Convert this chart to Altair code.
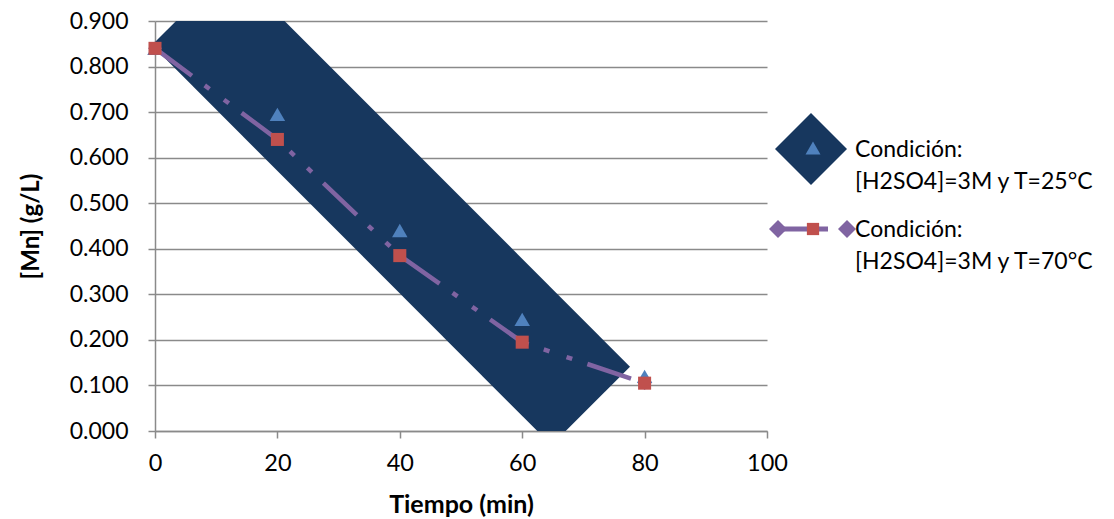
import altair as alt
import pandas as pd

# ---- data ----
tiempo = [0, 20, 40, 60, 80]
mn_25c = [0.840, 0.695, 0.440, 0.245, 0.120]
mn_70c = [0.840, 0.640, 0.385, 0.195, 0.105]
band_t = [5.9, 71.2]
band_v = [0.933, 0.055]
end_t = [0, 80]
end_v = [0.840, 0.105]
y_ticks = [0.0, 0.1, 0.2, 0.3, 0.4, 0.5, 0.6, 0.7, 0.8, 0.9]
x_ticks = [0, 20, 40, 60, 80, 100]
legend_l1 = ["Condición:", "[H2SO4]=3M y T=25°C"]
legend_l2 = ["Condición:", "[H2SO4]=3M y T=70°C"]

FONT = "Lato"
NAVY = "#17375E"
BLUE = "#4F81BD"
RED = "#C0504D"
PURPLE = "#8064A2"
GRID = "#8a8a8a"

main = pd.DataFrame({"t": tiempo, "a": mn_25c, "b": mn_70c})
band = pd.DataFrame({"t": band_t, "v": band_v})
ends = pd.DataFrame({"t": end_t, "v": end_v})

xs = alt.Scale(domain=[0, 100], nice=False)
ys = alt.Scale(domain=[0, 0.9], nice=False)

x_axis = alt.Axis(values=x_ticks, title="Tiempo (min)", grid=False, labelFlush=False,
                  domainColor=GRID, domainWidth=1.5, tickColor=GRID, tickWidth=1.5,
                  tickSize=7, labelFontSize=23.5, labelPadding=13, labelFont=FONT,
                  labelColor="#000000", titleFont=FONT, titleFontSize=25,
                  titleFontWeight="bold", titleColor="#000000",
                  titleX=306, titleY=81, titleBaseline="alphabetic", titleAlign="center")
y_axis = alt.Axis(values=y_ticks, format=".3f", title="[Mn] (g/L)", grid=True,
                  gridColor=GRID, gridWidth=1.5, domainColor=GRID, domainWidth=1.5,
                  tickColor=GRID, tickWidth=1.5, tickSize=7, labelFontSize=23,
                  labelPadding=20, labelFont=FONT, labelColor="#000000", labelFlush=False,
                  titleFont=FONT, titleFontSize=24, titleFontWeight="bold",
                  titleColor="#000000", titleX=-117, titleY=205, titleAngle=270,
                  titleAlign="center", titleBaseline="alphabetic")

band_layer = alt.Chart(band).mark_line(
    color=NAVY, strokeWidth=111, strokeCap="butt", clip=True
).encode(
    x=alt.X("t:Q", scale=xs, axis=x_axis),
    y=alt.Y("v:Q", scale=ys, axis=y_axis),
)

tri_layer = alt.Chart(main).mark_point(
    shape="triangle-up", filled=True, color=BLUE, size=240, opacity=1
).encode(x=alt.X("t:Q", scale=xs), y=alt.Y("a:Q", scale=ys))

purple_line = alt.Chart(main).mark_line(
    color=PURPLE, strokeWidth=4.5, strokeDash=[46, 16, 6, 18, 6, 16], strokeCap="butt"
).encode(x=alt.X("t:Q", scale=xs), y=alt.Y("b:Q", scale=ys))

end_diamonds = alt.Chart(ends).mark_point(
    shape="diamond", filled=True, color=PURPLE, size=190, opacity=1
).encode(x=alt.X("t:Q", scale=xs), y=alt.Y("v:Q", scale=ys))

sq_layer = alt.Chart(main).mark_square(
    color=RED, size=170, opacity=1
).encode(x=alt.X("t:Q", scale=xs), y=alt.Y("b:Q", scale=ys))

# ---- legend (outside plot area, pixel positions relative to plot origin) ----
one = pd.DataFrame({"k": [0]})
leg = []
leg.append(alt.Chart(one).mark_point(shape="diamond", filled=True, color=NAVY,
                                     size=5184, opacity=1)
           .encode(x=alt.value(656), y=alt.value(128)))
leg.append(alt.Chart(one).mark_point(shape="triangle-up", filled=True, color=BLUE,
                                     size=225, opacity=1)
           .encode(x=alt.value(658), y=alt.value(127)))
leg.append(alt.Chart(one).mark_rule(color=PURPLE, strokeWidth=5)
           .encode(x=alt.value(623), x2=alt.value(673), y=alt.value(208)))
leg.append(alt.Chart(one).mark_point(shape="diamond", filled=True, color=PURPLE,
                                     size=324, opacity=1)
           .encode(x=alt.value(623), y=alt.value(208)))
leg.append(alt.Chart(one).mark_point(shape="diamond", filled=True, color=PURPLE,
                                     size=324, opacity=1)
           .encode(x=alt.value(692), y=alt.value(208)))
leg.append(alt.Chart(one).mark_square(color=RED, size=150, opacity=1)
           .encode(x=alt.value(658), y=alt.value(208)))
for txt, yy in [(legend_l1[0], 136), (legend_l1[1], 168),
                (legend_l2[0], 216), (legend_l2[1], 248)]:
    leg.append(alt.Chart(one).mark_text(text=txt, font=FONT, fontSize=23,
                                        align="left", baseline="alphabetic",
                                        color="#000000")
               .encode(x=alt.value(700), y=alt.value(yy)))

chart = alt.layer(band_layer, tri_layer, purple_line, end_diamonds, sq_layer, *leg).properties(
    width=612, height=410,
    autosize=alt.AutoSizeParams(type="none"),
    padding={"left": 155, "top": 21, "right": 347, "bottom": 88},
    background="white",
).configure_view(strokeWidth=0)

chart.save("out.html", embed_options={"renderer": "svg", "actions": False})
